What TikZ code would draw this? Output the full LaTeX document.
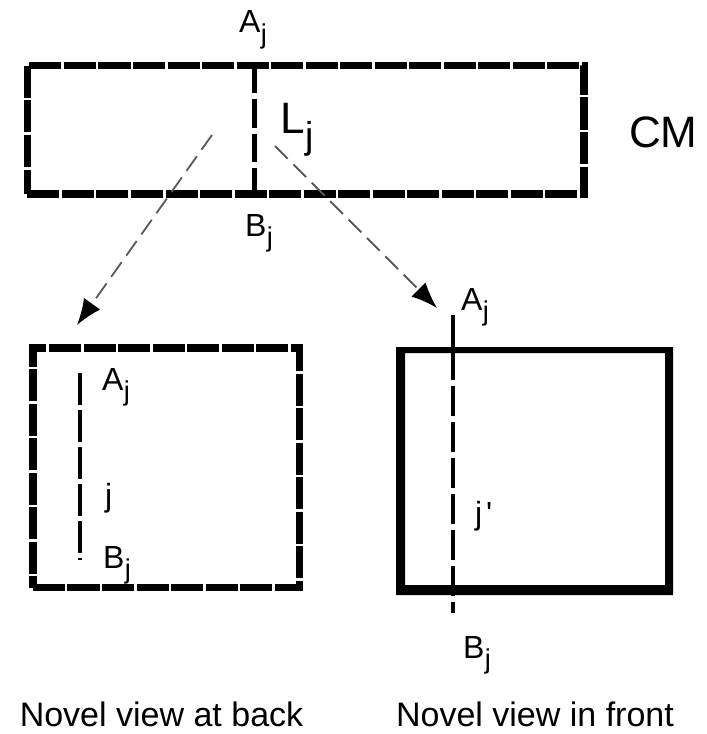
\documentclass[tikz,border=0pt]{standalone}
\usepackage{fontspec}
\setmainfont{Liberation Sans}
\usetikzlibrary{arrows.meta,calc}
% letter with a lowered index j
\newcommand\withj[1]{#1\kern0.01em\raisebox{-0.32em}{\scalebox{0.85}{j}}}

\begin{document}
\begin{tikzpicture}[x=1bp,y=-1bp,
  frame/.style={draw, inner sep=0, outer sep=0, line width=7.5bp,
    dash pattern=on 32bp off 2.5bp, line cap=butt, miter limit=10},
  plainbox/.style={inner sep=0, outer sep=0},
  seg/.style={line width=4.5bp, line cap=butt},
  proj/.style={draw=black!65, line width=1.8bp, dash pattern=on 18bp off 8bp,
    -{Latex[length=26bp,width=20bp,black]}},
  lab/.style={font=\fontsize{32bp}{36bp}\selectfont, inner sep=0, anchor=base west},
  biglab/.style={font=\fontsize{44bp}{48bp}\selectfont, inner sep=0, anchor=base west},
  caption/.style={font=\fontsize{34bp}{40bp}\selectfont, inner sep=0, anchor=base}]
\useasboundingbox (0,0) rectangle (707,734);

% the three frames
\node[frame, minimum width=556.5bp, minimum height=128.5bp] (cm) at (305.75,129.75) {};
\node[frame, minimum width=266.5bp, minimum height=239.5bp] (back) at (166.25,467.75) {};
\node[plainbox, minimum width=277bp, minimum height=248bp] (front) at (534.5,471) {};
\fill[even odd rule] (front.north west) rectangle (front.south east)
  ($(front.north west)+(9,6)$) rectangle ($(front.south east)+(-8,-10)$);

% line segment AB in each view
\coordinate (cmA) at (254.5,65.5);
\coordinate (cmB) at (254.5,194);
\draw[seg, dash pattern=on 28bp off 6bp] (cmA) -- (cmB);

\coordinate (bkA) at (80,373);
\coordinate (bkB) at (80,560);
\draw[seg, line width=4bp, dash pattern=on 32bp off 5bp] (bkA) -- (bkB);

\coordinate (frA) at (453,315);
\coordinate (frB) at (453,613);
\draw[seg, dash pattern=on 65bp off 6bp on 30bp off 6bp on 30bp off 6bp on 30bp off 6bp
  on 30bp off 6bp on 30bp off 6bp on 30bp off 6bp on 30bp off 6bp] (frA) -- (frB);

% projections into the two novel views
\coordinate (pl0) at (212,135);
\coordinate (pl1) at (77,325);
\coordinate (pr0) at (275,146);
\coordinate (pr1) at (437,308);
\draw[proj] (pl0) -- (pl1);
\draw[proj] (pr0) -- (pr1);

% labels
\node[lab] (tA) at (239,33) {\withj{A}};
\node[lab] (tB) at (245,236) {\withj{B}};
\node[biglab] (tL) at (280,134) {\withj{L}};
\node[biglab] (tCM) at (629,147) {CM};

\node[lab] (bA) at (102,390) {\withj{A}};
\node[lab] (bj) at (105,506) {j};
\node[lab] (bB) at (103,568) {\withj{B}};

\node[lab] (fA) at (461,310) {\withj{A}};
\node[lab] (fj) at (475,524) {j\kern0.12em\textquotesingle};
\node[lab] (fB) at (463,658) {\withj{B}};

\node[caption] (capB) at (161.5,726) {Novel view at back};
\node[caption] (capF) at (535,726) {Novel view in front};
\end{tikzpicture}
\end{document}
